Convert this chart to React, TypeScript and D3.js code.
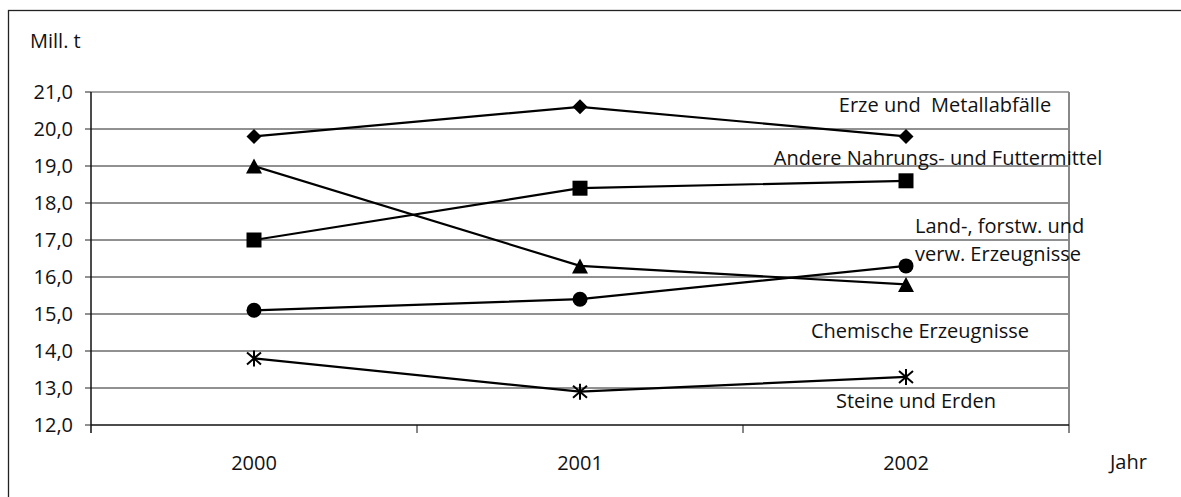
import React from "react";
import * as d3 from "d3";

const years = ["2000", "2001", "2002"];
const yTicks = [12, 13, 14, 15, 16, 17, 18, 19, 20, 21];

const erze = [19.8, 20.6, 19.8];
const nahrung = [17.0, 18.4, 18.6];
const landForst = [19.0, 16.3, 15.8];
const chemie = [15.1, 15.4, 16.3];
const steine = [13.8, 12.9, 13.3];

const seriesList = [
  { name: "Erze und  Metallabfälle", values: erze, marker: "diamond" },
  { name: "Andere Nahrungs- und Futtermittel", values: nahrung, marker: "square" },
  { name: "Land-, forstw. und verw. Erzeugnisse", values: landForst, marker: "triangle" },
  { name: "Chemische Erzeugnisse", values: chemie, marker: "circle" },
  { name: "Steine und Erden", values: steine, marker: "star" },
];

// labels sit in the plot, next to the last year, as in the source
const labelLines = [
  { lines: ["Erze und  Metallabfälle"], value: 20.45, dx: 39, anchor: "middle" },
  { lines: ["Andere Nahrungs- und Futtermittel"], value: 19.04, dx: 32, anchor: "middle" },
  { lines: ["Land-, forstw. und", "verw. Erzeugnisse"], value: 17.2, dx: 9, anchor: "start" },
  { lines: ["Chemische Erzeugnisse"], value: 14.35, dx: 14, anchor: "middle" },
  { lines: ["Steine und Erden"], value: 12.47, dx: 10, anchor: "middle" },
];

const W = 1181;
const H = 497;
const margin = { top: 92, right: 112, bottom: 72, left: 91 };
const font = "'Open Sans', sans-serif";
const fs = 20;

const markerPath = (type: string, x: number, y: number) => {
  const s = 7.5;
  if (type === "diamond") return `M${x},${y - s}L${x + s},${y}L${x},${y + s}L${x - s},${y}Z`;
  if (type === "square") return `M${x - s},${y - s}h${2 * s}v${2 * s}h${-2 * s}Z`;
  if (type === "triangle") return `M${x},${y - s}L${x + s + 0.5},${y + s}L${x - s - 0.5},${y + s}Z`;
  return "";
};

export default function App() {
  const x = d3.scaleBand().domain(years).range([margin.left, W - margin.right]);
  const y = d3.scaleLinear().domain([12, 21]).range([H - margin.bottom, margin.top]);
  const cx = (i: number) => (x(years[i]) ?? 0) + x.bandwidth() / 2;
  const line = d3.line<number>().x((_, i) => cx(i)).y((d) => y(d));
  const x0 = margin.left;
  const x1 = W - margin.right;
  const yB = y(12);
  const yT = y(21);

  return (
    <svg width={W} height={H} style={{ position: "absolute", left: 0, top: 0, background: "#fff" }}>
      <rect x={8.5} y={10.5} width={1190} height={500} fill="none" stroke="#222" strokeWidth={1.3} />
      <text x={30} y={48} fontFamily={font} fontSize={fs} fill="#111">Mill. t</text>

      {yTicks.map((t) => (
        <g key={t}>
          {t > 12 && t < 21 && (
            <line x1={x0} x2={x1} y1={y(t)} y2={y(t)} stroke="#222" strokeWidth={1} />
          )}
          <line x1={x0 - 6} x2={x0} y1={y(t)} y2={y(t)} stroke="#222" strokeWidth={1} />
          <text x={73} y={y(t) + 7} textAnchor="end" fontFamily={font} fontSize={fs} fill="#111">
            {d3.format(".1f")(t).replace(".", ",")}
          </text>
        </g>
      ))}
      <line x1={x0} x2={x1} y1={yT} y2={yT} stroke="#888" strokeWidth={1.5} />
      <line x1={x1} x2={x1} y1={yT} y2={yB} stroke="#888" strokeWidth={2} />
      <line x1={x0} x2={x0} y1={yT} y2={yB + 8} stroke="#111" strokeWidth={1.5} />
      <line x1={x0} x2={x1} y1={yB} y2={yB} stroke="#111" strokeWidth={1.5} />
      {years.map((yr) => (
        <line key={yr} x1={(x(yr) ?? 0) + x.bandwidth()} x2={(x(yr) ?? 0) + x.bandwidth()} y1={yB} y2={yB + 8} stroke="#111" strokeWidth={1} />
      ))}
      {years.map((yr, i) => (
        <text key={yr} x={cx(i)} y={470} textAnchor="middle" fontFamily={font} fontSize={fs} fill="#111">{yr}</text>
      ))}
      <text x={1110} y={469} fontFamily={font} fontSize={fs} fill="#111">Jahr</text>

      {seriesList.map((s) => (
        <g key={s.name}>
          <path d={line(s.values) ?? ""} fill="none" stroke="#000" strokeWidth={2.2} />
          {s.values.map((v, i) =>
            s.marker === "circle" ? (
              <circle key={i} cx={cx(i)} cy={y(v)} r={7.5} fill="#000" />
            ) : s.marker === "star" ? (
              <path key={i} d={`M${cx(i) - 7},${y(v) - 6}L${cx(i) + 7},${y(v) + 6}M${cx(i) - 7},${y(v) + 6}L${cx(i) + 7},${y(v) - 6}M${cx(i)},${y(v) - 8}V${y(v) + 8}`} stroke="#000" strokeWidth={2} fill="none" />
            ) : (
              <path key={i} d={markerPath(s.marker, cx(i), y(v))} fill="#000" />
            )
          )}
        </g>
      ))}

      {labelLines.map((l) =>
        l.lines.map((txt, j) => (
          <text key={txt} x={cx(2) + l.dx} y={y(l.value) + j * 28} textAnchor={l.anchor} fontFamily={font} fontSize={fs} fill="#111" style={{ whiteSpace: "pre" }}>
            {txt}
          </text>
        ))
      )}
    </svg>
  );
}
